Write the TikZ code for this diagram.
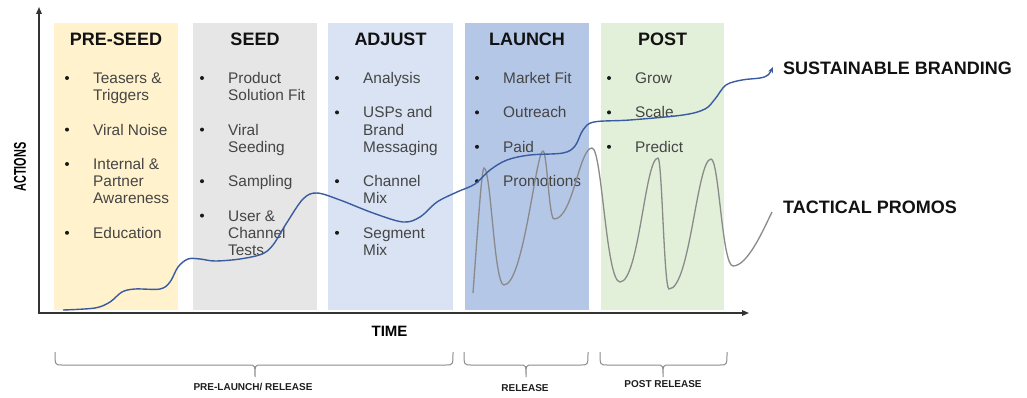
\documentclass[tikz,border=0pt]{standalone}
\usepackage{fontspec}
\setmainfont{Liberation Sans}
\usetikzlibrary{arrows.meta}
\definecolor{cPre}{HTML}{FFF2CC}
\definecolor{cSeed}{HTML}{E7E6E6}
\definecolor{cAdj}{HTML}{DAE3F3}
\definecolor{cLaunch}{HTML}{B4C7E7}
\definecolor{cPost}{HTML}{E2F0D9}
\definecolor{cBlue}{HTML}{3A5BA0}
\definecolor{cGrayLine}{HTML}{8A8A8A}
\definecolor{cText}{HTML}{454545}
\definecolor{cAxis}{HTML}{333333}
\definecolor{cBrace}{HTML}{8C8C8C}
\newcommand\bulitem[5]{%
  \node[dotb] (#1b) at (#2,{78+17.2*#4}) {};
  \node[itm] (#1) at (#3,{78+17.2*#4+5.5}) {#5};}
\newcommand\contitem[4]{%
  \node[itm] (#1) at (#2,{78+17.2*#3+5.5}) {#4};}
\newcommand\mybrace[5]{% name, x1, xmid, x2, label
  \coordinate (#1l) at (#2,352);
  \coordinate (#1r) at (#4,352);
  \coordinate (#1m) at (#3,377);
  \draw[brc] (#1l) .. controls (#2,365) .. (#2+7,365) -- (#3-6,365)
    .. controls (#3,365) .. (#1m) .. controls (#3,365) .. (#3+6,365)
    -- (#4-7,365) .. controls (#4,365) .. (#1r);}
\begin{document}
\begin{tikzpicture}[x=1pt,y=-1pt,
  phase/.style={draw=none,inner sep=0pt,anchor=north west,minimum height=287pt},
  title/.style={font=\fontsize{18}{20}\selectfont\bfseries,text=black!93,inner sep=0pt},
  itm/.style={anchor=base west,inner sep=0pt,font=\fontsize{15.4}{18}\selectfont,text=cText},
  dotb/.style={circle,fill=black!90,inner sep=0pt,minimum size=4pt},
  axis/.style={draw=cAxis,line width=1.4pt},
  blueline/.style={draw=cBlue,line width=1.4pt},
  grayline/.style={draw=cGrayLine,line width=1.3pt},
  brc/.style={draw=cBrace,line width=1pt},
  blabel/.style={font=\fontsize{10}{12}\selectfont\bfseries,text=black!88,inner sep=0pt},
  biglabel/.style={font=\fontsize{18}{20}\selectfont\bfseries,text=black!93,inner sep=0pt,anchor=west}]
\useasboundingbox[fill=white] (0,0) rectangle (1027,398);

% phase boxes
\node[phase,fill=cPre,minimum width=124pt] (bpre) at (54,23) {};
\node[phase,fill=cSeed,minimum width=124pt] (bseed) at (193,23) {};
\node[phase,fill=cAdj,minimum width=125pt] (badj) at (328,23) {};
\node[phase,fill=cLaunch,minimum width=124pt] (blaunch) at (465,23) {};
\node[phase,fill=cPost,minimum width=123pt] (bpost) at (601,23) {};

% titles
\node[title] (tpre) at (116,39) {PRE-SEED};
\node[title] (tseed) at (255,39) {SEED};
\node[title] (tadj) at (390.5,39) {ADJUST};
\node[title] (tlaunch) at (527,39) {LAUNCH};
\node[title] (tpost) at (662.5,39) {POST};

% pre-seed items
\bulitem{p1}{67}{93}{0}{Teasers \&}
\contitem{p1a}{93}{1}{Triggers}
\bulitem{p2}{67}{93}{3}{Viral Noise}
\bulitem{p3}{67}{93}{5}{Internal \&}
\contitem{p3a}{93}{6}{Partner}
\contitem{p3b}{93}{7}{Awareness}
\bulitem{p4}{67}{93}{9}{Education}

% seed items
\bulitem{s1}{202}{228}{0}{Product}
\contitem{s1a}{228}{1}{Solution Fit}
\bulitem{s2}{202}{228}{3}{Viral}
\contitem{s2a}{228}{4}{Seeding}
\bulitem{s3}{202}{228}{6}{Sampling}
\bulitem{s4}{202}{228}{8}{User \&}
\contitem{s4a}{228}{9}{Channel}
\contitem{s4b}{228}{10}{Tests}

% adjust items
\bulitem{a1}{337}{363}{0}{Analysis}
\bulitem{a2}{337}{363}{2}{USPs and}
\contitem{a2a}{363}{3}{Brand}
\contitem{a2b}{363}{4}{Messaging}
\bulitem{a3}{337}{363}{6}{Channel}
\contitem{a3a}{363}{7}{Mix}
\bulitem{a4}{337}{363}{9}{Segment}
\contitem{a4a}{363}{10}{Mix}

% launch items
\bulitem{l1}{477}{503}{0}{Market Fit}
\bulitem{l2}{477}{503}{2}{Outreach}
\bulitem{l3}{477}{503}{4}{Paid}
\bulitem{l4}{477}{503}{6}{Promotions}

% post items
\bulitem{o1}{609}{635}{0}{Grow}
\bulitem{o2}{609}{635}{2}{Scale}
\bulitem{o3}{609}{635}{4}{Predict}

% axes
\coordinate (ytop) at (39,7);
\coordinate (orig) at (39,313);
\coordinate (xend) at (749,313);
\draw[axis,{Triangle[length=7pt,width=5.5pt]}-{Triangle[length=7pt,width=5.5pt]}] (ytop) -- (orig) -- (xend);
\node[font=\fontsize{17}{19}\selectfont\bfseries,rotate=90,inner sep=0pt] (yl) at (20,167) {\scalebox{0.64}[1]{ACTIONS}};
\node[font=\fontsize{15}{17}\selectfont\bfseries,inner sep=0pt] (xl) at (389.5,331) {TIME};

% tactical promos (gray)
\coordinate (gstart) at (473,293);
\coordinate (gend) at (772,212);
\draw[grayline] (gstart) .. controls (479,210) and (482,168) .. (484,168)
  .. controls (491,168) and (494,285) .. (504,285)
  .. controls (523.5,285) and (536,151) .. (543,151)
  .. controls (547,151) and (549,219) .. (554,219)
  .. controls (573,219) and (579,148) .. (592,148)
  .. controls (602,148) and (606,282) .. (620,282)
  .. controls (639,282) and (645,158) .. (658,158)
  .. controls (662,158) and (664,289) .. (669,289)
  .. controls (690,289) and (697,159) .. (711,159)
  .. controls (719,159) and (722,266) .. (733,266)
  .. controls (748,266) and (764,228) .. (gend);

% sustainable branding (blue)
\coordinate (bstart) at (63,310);
\coordinate (bend) at (773,67);
\draw[blueline,-{Stealth[length=6pt,width=5pt]}] plot[smooth,tension=0.55] coordinates {
 (bstart) (95,308) (110,302) (122,292) (135,289) (160,289) (170,282) (178,267) (188,259)
 (200,259) (215,261) (240,259) (262,254) (273,245) (286,224) (303,199) (317,193)
 (340,200) (373,213) (403,222) (420,217) (437,202) (457,192) (475,184) (490,170)
 (507,160) (530,155) (563,153) (575,146) (583,130) (594,122) (630,120) (683,115)
 (705,109) (715,99) (726,85) (742,80) (760,78) (768,75) (bend)};

% right labels
\node[biglabel] (lsb) at (783,68) {SUSTAINABLE BRANDING};
\node[biglabel] (ltp) at (783,207) {TACTICAL PROMOS};

% braces
\mybrace{br1}{55}{255}{453}{}
\mybrace{br2}{464}{526}{588}{}
\mybrace{br3}{600}{663}{727}{}
\node[blabel] (lb1) at (253,387) {PRE-LAUNCH/ RELEASE};
\node[blabel] (lb2) at (525,388) {RELEASE};
\node[blabel] (lb3) at (663,384) {POST RELEASE};
\end{tikzpicture}
\end{document}
